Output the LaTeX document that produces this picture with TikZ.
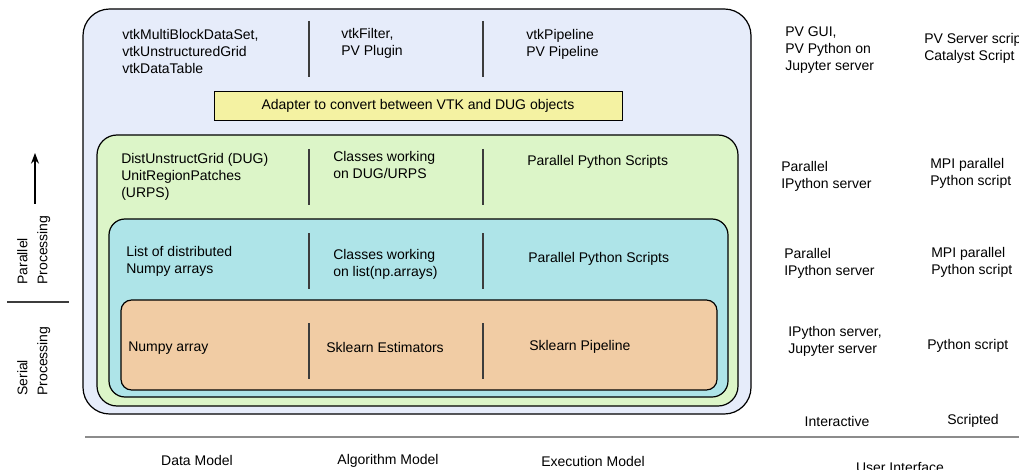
\documentclass[tikz,border=0pt]{standalone}
\usepackage{fontspec}
\setmainfont{Liberation Sans}
\usetikzlibrary{arrows.meta}
\definecolor{outerc}{RGB}{230,236,250}
\definecolor{greenc}{RGB}{220,245,200}
\definecolor{cyanc}{RGB}{174,228,232}
\definecolor{orangec}{RGB}{241,204,164}
\definecolor{yellowc}{RGB}{244,242,162}
\definecolor{divc}{RGB}{60,60,60}
\begin{document}
\begin{tikzpicture}[x=0.75pt,y=-0.75pt,
  lyr/.style={draw=black,line width=0.9pt},
  divider/.style={draw=divc,line width=0.9pt},
  txt/.style={font=\fontsize{10.5pt}{12.75pt}\selectfont,align=left,anchor=west,inner sep=0pt},
  ctxt/.style={font=\fontsize{10.5pt}{12.75pt}\selectfont,align=center,inner sep=0pt},
  rtxt/.style={font=\fontsize{10.5pt}{15pt}\selectfont,align=left,rotate=90,anchor=north west,inner sep=0pt}]
\clip (0,0) rectangle (1019,470);
\fill[white] (0,0) rectangle (1019,470);
% layers
\draw[lyr,fill=outerc,rounded corners=20] (83,9) rectangle (751,414);
\node[draw=black,line width=0.7pt,fill=yellowc,minimum width=408*0.75pt,minimum height=29*0.75pt,inner sep=0pt,
  font=\fontsize{10.5pt}{12.75pt}\selectfont] (adapter) at (418,106) {Adapter to convert between VTK and DUG objects};
\draw[lyr,fill=greenc,rounded corners=15] (97,135) rectangle (738,406);
\draw[lyr,fill=cyanc,rounded corners=12] (109,219) rectangle (728,397);
\draw[lyr,fill=orangec,rounded corners=8] (121,300) rectangle (717,390);
% dividers
\foreach \x in {309,483}{
  \draw[divider] (\x,21) -- (\x,77);
  \draw[divider] (\x,149) -- (\x,205);
  \draw[divider] (\x,233) -- (\x,289);
  \draw[divider] (\x,323) -- (\x,379);
}
% top row
\node[txt] (vtkdata) at (122,51.5) {vtkMultiBlockDataSet,\\vtkUnstructuredGrid\\vtkDataTable};
\node[txt] (vtkalg) at (341,43) {vtkFilter,\\PV Plugin};
\node[txt] (vtkexec) at (526,44.5) {vtkPipeline\\PV Pipeline};
% green row
\node[txt] (dugdata) at (121,177) {DistUnstructGrid (DUG)\\UnitRegionPatches\\(URPS)};
\node[txt] (dugalg) at (333,164.5) {Classes working\\on DUG/URPS};
\node[txt] (dugexec) at (527,162) {Parallel Python Scripts};
% cyan row
\node[txt] (listdata) at (126,261.5) {List of distributed\\Numpy arrays};
\node[txt] (listalg) at (333,264.5) {Classes working\\on list(np.arrays)};
\node[txt] (listexec) at (528,259) {Parallel Python Scripts};
% orange row
\node[txt] (npdata) at (128,348) {Numpy array};
\node[txt] (npalg) at (326,347) {Sklearn Estimators};
\node[txt] (npexec) at (529,347) {Sklearn Pipeline};
% right columns
\node[txt] (ui1) at (785,50) {PV GUI,\\PV Python on\\Jupyter server};
\node[txt] (us1) at (924,48.5) {PV Server script\\Catalyst Script};
\node[txt] (ui2) at (781,176.5) {Parallel\\IPython server};
\node[txt] (us2) at (930,173.5) {MPI parallel\\Python script};
\node[txt] (ui3) at (784,263.5) {Parallel\\IPython server};
\node[txt] (us3) at (931,262.5) {MPI parallel\\Python script};
\node[txt] (ui4) at (788,341.5) {IPython server,\\Jupyter server};
\node[txt] (us4) at (927,346) {Python script};
\node[ctxt] (inter) at (837,421) {Interactive};
\node[ctxt] (script) at (973,421) {Scripted};
% bottom
\coordinate (bl) at (85,437);
\coordinate (br) at (1019,437);
\draw[draw=gray!90,line width=1.3pt] (bl) -- (br);
\node[ctxt] (dm) at (197,460) {Data Model};
\node[ctxt] (am) at (388,461) {Algorithm Model};
\node[ctxt] (em) at (593,461) {Execution Model};
\node[ctxt] (uim) at (900,467) {User Interface};
% left
\coordinate (arrb) at (35,204);
\coordinate (arrt) at (35,153);
\draw[line width=0.9pt,-{Stealth[length=8pt,width=6pt]}] (arrb) -- (arrt);
\node[rtxt] (par) at (17,285) {Parallel\\Processing};
\coordinate (sl) at (7,302);
\coordinate (sr) at (69,302);
\draw[divc,line width=0.8pt] (sl) -- (sr);
\node[rtxt] (ser) at (17,396) {Serial\\Processing};
\end{tikzpicture}
\end{document}
